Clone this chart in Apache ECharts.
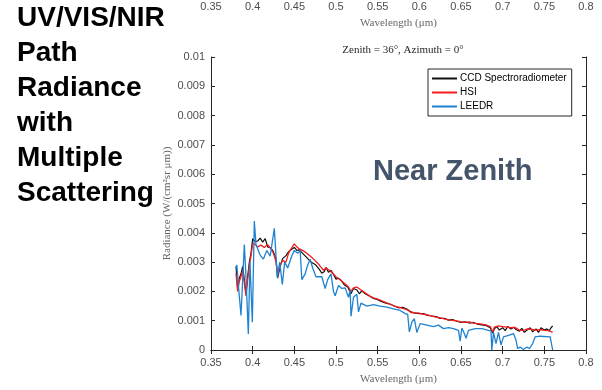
<!DOCTYPE html>
<html><head><meta charset="utf-8">
<script src="https://cdn.jsdelivr.net/npm/echarts@6/dist/echarts.min.js"></script>
<style>html,body{margin:0;padding:0;background:#fff}#c{width:602px;height:390px}</style>
</head><body><div id="c"></div>
<script>
var xTickLabels = ['0.35','0.4','0.45','0.5','0.55','0.6','0.65','0.7','0.75','0.8'];
var yTickLabels = ['0','0.001','0.002','0.003','0.004','0.005','0.006','0.007','0.008','0.009','0.01'];
var seriesNames = ['CCD Spectroradiometer','HSI','LEEDR'];

var ccdWl = [0.380,0.382,0.384,0.386,0.388,0.390,0.392,0.394,0.396,0.398,0.400,0.403,0.406,0.409,0.412,0.415,0.418,0.422,0.425,0.428,0.430,0.433,0.436,0.440,0.443,0.446,0.450,0.453,0.456,0.460,0.465,0.470,0.475,0.480,0.483,0.486,0.488,0.491,0.494,0.497,0.500,0.503,0.506,0.510,0.514,0.518,0.521,0.525,0.528,0.531,0.535,0.540,0.545,0.550,0.555,0.560,0.565,0.570,0.575,0.580,0.585,0.590,0.595,0.600,0.605,0.610,0.615,0.620,0.625,0.630,0.635,0.640,0.645,0.650,0.655,0.660,0.665,0.670,0.675,0.680,0.685,0.688,0.690,0.693,0.696,0.700,0.703,0.706,0.710,0.713,0.716,0.720,0.723,0.726,0.730,0.733,0.736,0.740,0.743,0.746,0.750,0.753,0.756,0.758,0.760];
var ccdVal = [0.00285,0.00210,0.00245,0.00260,0.00285,0.00280,0.00195,0.00250,0.00300,0.00330,0.00380,0.00370,0.00372,0.00382,0.00368,0.00380,0.00352,0.00348,0.00335,0.00310,0.00245,0.00285,0.00312,0.00322,0.00335,0.00342,0.00350,0.00340,0.00342,0.00330,0.00315,0.00300,0.00292,0.00275,0.00262,0.00268,0.00282,0.00265,0.00272,0.00258,0.00242,0.00245,0.00238,0.00222,0.00215,0.00192,0.00210,0.00205,0.00192,0.00202,0.00192,0.00184,0.00176,0.00172,0.00165,0.00160,0.00156,0.00150,0.00144,0.00146,0.00140,0.00130,0.00126,0.00124,0.00124,0.00118,0.00116,0.00114,0.00108,0.00108,0.00102,0.00104,0.00098,0.00094,0.00096,0.00092,0.00094,0.00088,0.00086,0.00084,0.00076,0.00058,0.00072,0.00080,0.00068,0.00076,0.00066,0.00080,0.00072,0.00078,0.00070,0.00064,0.00074,0.00060,0.00070,0.00076,0.00062,0.00072,0.00060,0.00076,0.00068,0.00072,0.00066,0.00076,0.00082];

var hsiWl = [0.380,0.382,0.384,0.386,0.388,0.390,0.392,0.394,0.396,0.398,0.400,0.403,0.406,0.410,0.414,0.418,0.422,0.425,0.428,0.430,0.433,0.436,0.440,0.443,0.446,0.450,0.453,0.456,0.460,0.465,0.470,0.475,0.480,0.485,0.488,0.492,0.496,0.500,0.505,0.510,0.515,0.518,0.521,0.525,0.530,0.535,0.540,0.545,0.550,0.555,0.560,0.565,0.570,0.575,0.580,0.585,0.590,0.595,0.600,0.605,0.610,0.615,0.620,0.625,0.630,0.635,0.640,0.645,0.650,0.655,0.660,0.665,0.670,0.675,0.680,0.685,0.688,0.690,0.695,0.700,0.705,0.710,0.715,0.720,0.725,0.730,0.735,0.740,0.745,0.750,0.755,0.760];
var hsiVal = [0.00262,0.00200,0.00235,0.00250,0.00270,0.00230,0.00185,0.00240,0.00290,0.00320,0.00365,0.00360,0.00352,0.00358,0.00350,0.00360,0.00345,0.00330,0.00300,0.00255,0.00290,0.00305,0.00300,0.00330,0.00345,0.00362,0.00352,0.00345,0.00340,0.00330,0.00318,0.00305,0.00290,0.00272,0.00280,0.00272,0.00262,0.00250,0.00240,0.00228,0.00215,0.00200,0.00212,0.00215,0.00205,0.00195,0.00185,0.00178,0.00174,0.00168,0.00162,0.00157,0.00150,0.00146,0.00142,0.00138,0.00128,0.00127,0.00126,0.00122,0.00120,0.00116,0.00112,0.00110,0.00106,0.00103,0.00101,0.00099,0.00096,0.00094,0.00096,0.00092,0.00090,0.00088,0.00086,0.00080,0.00062,0.00078,0.00082,0.00080,0.00078,0.00076,0.00077,0.00068,0.00067,0.00072,0.00070,0.00068,0.00070,0.00067,0.00066,0.00060];

var leedrWl = [0.380,0.381,0.3836,0.386,0.388,0.390,0.392,0.3948,0.3968,0.3996,0.402,0.404,0.4088,0.4128,0.417,0.421,0.426,0.4296,0.4324,0.4356,0.4384,0.442,0.4468,0.450,0.454,0.457,0.459,0.463,0.466,0.469,0.472,0.476,0.480,0.483,0.487,0.490,0.492,0.494,0.497,0.499,0.503,0.507,0.511,0.515,0.517,0.518,0.521,0.525,0.527,0.530,0.537,0.545,0.553,0.561,0.569,0.577,0.583,0.586,0.588,0.591,0.594,0.597,0.601,0.609,0.617,0.623,0.629,0.635,0.641,0.647,0.649,0.651,0.654,0.656,0.659,0.667,0.675,0.683,0.686,0.687,0.689,0.692,0.695,0.698,0.701,0.707,0.713,0.716,0.718,0.721,0.725,0.729,0.732,0.736,0.739,0.745,0.757,0.760];
var leedrVal = [0.00280,0.00290,0.00196,0.00118,0.00240,0.00360,0.00250,0.00055,0.00300,0.00095,0.00440,0.00360,0.00325,0.00310,0.00340,0.00320,0.00415,0.00247,0.00300,0.00224,0.00300,0.00280,0.00320,0.00340,0.00330,0.00340,0.00240,0.00260,0.00290,0.00310,0.00280,0.00250,0.00250,0.00250,0.00210,0.00240,0.00235,0.00260,0.00200,0.00185,0.00220,0.00210,0.00212,0.00180,0.00205,0.00115,0.00180,0.00190,0.00130,0.00160,0.00150,0.00155,0.00150,0.00146,0.00140,0.00135,0.00124,0.00122,0.00062,0.00095,0.00107,0.00060,0.00090,0.00085,0.00080,0.00085,0.00073,0.00076,0.00073,0.00067,0.00030,0.00075,0.00056,0.00040,0.00067,0.00073,0.00073,0.00067,0.00065,0.00000,0.00060,0.00022,0.00060,0.00017,0.00045,0.00050,0.00056,0.00034,0.00005,0.00010,0.00002,0.00010,0.00005,0.00022,0.00045,0.00047,0.00045,0.00000];

function zip(a,b){return a.map(function(v,i){return [v,b[i]];});}
function xFmt(v){var i=Math.round((v-0.35)/0.05);return xTickLabels[i]!==undefined?xTickLabels[i]:'';}
function yFmt(v){var i=Math.round(v/0.001);return yTickLabels[i]!==undefined?yTickLabels[i]:'';}

var axCol = '#262626';
var lblStyle = {color:'#4d4d4d', fontSize:11, fontFamily:'Liberation Sans, Arial, sans-serif'};
var serif = 'Liberation Serif, DejaVu Serif, serif';

var chart = echarts.init(document.getElementById('c'), null, {renderer:'canvas'});
chart.setOption({
  animation:false,
  backgroundColor:'#fff',
  title:{text:'Zenith = 36°, Azimuth = 0°', left:398, top:40, textAlign:'center',
    textStyle:{fontFamily:serif, fontSize:11, fontWeight:'normal', color:'#262626'}},
  legend:{orient:'vertical', left:428, top:69, padding:[4,5,4,4], itemGap:3, itemWidth:25, itemHeight:2, icon:'rect',
    backgroundColor:'#fff', borderColor:axCol, borderWidth:1, borderRadius:0,
    textStyle:{fontSize:10, color:'#000', fontFamily:'Liberation Sans, Arial, sans-serif', padding:[0,0,0,-2], lineHeight:11},
    data:seriesNames},
  grid:[
    {left:211, top:57, width:375, height:296, containLabel:false},
    {left:211, top:-8, width:375, height:2, containLabel:false}
  ],
  xAxis:[
    {gridIndex:0, type:'value', min:0.35, max:0.8, interval:0.05, position:'bottom',
     name:'Wavelength (μm)', nameLocation:'middle', nameGap:24, nameMoveOverlap:false,
     nameTextStyle:{fontFamily:serif, fontSize:11, color:'#666'},
     axisLine:{show:true, lineStyle:{color:axCol}}, axisTick:{show:true, inside:true, length:4, lineStyle:{color:axCol}},
     axisLabel:Object.assign({formatter:xFmt, margin:7}, lblStyle), splitLine:{show:false}},
    {gridIndex:0, type:'value', min:0.35, max:0.8, interval:0.05, position:'top',
     axisLine:{show:true, lineStyle:{color:axCol}}, axisTick:{show:true, inside:true, length:4, lineStyle:{color:axCol}},
     axisLabel:{show:false}, splitLine:{show:false}},
    {gridIndex:1, type:'value', min:0.35, max:0.8, interval:0.05, position:'bottom',
     name:'Wavelength (μm)', nameLocation:'middle', nameGap:23, nameMoveOverlap:false,
     nameTextStyle:{fontFamily:serif, fontSize:11, color:'#666'},
     axisLine:{show:false}, axisTick:{show:false},
     axisLabel:Object.assign({formatter:xFmt, margin:7}, lblStyle), splitLine:{show:false}}
  ],
  yAxis:[
    {gridIndex:0, type:'value', min:0, max:0.01, interval:0.001, position:'left',
     name:'Radiance (W/(cm²sr μm))', nameLocation:'middle', nameGap:38, nameMoveOverlap:false,
     nameTextStyle:{fontFamily:serif, fontSize:11, color:'#666', fontStyle:'normal'},
     axisLine:{show:true, lineStyle:{color:axCol}}, axisTick:{show:true, inside:true, length:4, lineStyle:{color:axCol}},
     axisLabel:Object.assign({formatter:yFmt, margin:6}, lblStyle), splitLine:{show:false}},
    {gridIndex:0, type:'value', min:0, max:0.01, interval:0.001, position:'right',
     axisLine:{show:true, lineStyle:{color:axCol}}, axisTick:{show:true, inside:true, length:4, lineStyle:{color:axCol}},
     axisLabel:{show:false}, splitLine:{show:false}},
    {gridIndex:1, type:'value', min:0, max:1, show:false}
  ],
  graphic:[
    {type:'text', left:17, top:1, style:{text:'UV/VIS/NIR\nPath\nRadiance\nwith\nMultiple\nScattering',
      fontFamily:'Liberation Sans, Arial, sans-serif', fontWeight:'bold', fontSize:28, lineHeight:35, fill:'#000'}},
    {type:'text', left:373, top:157, style:{text:'Near Zenith',
      fontFamily:'Liberation Sans, Arial, sans-serif', fontWeight:'bold', fontSize:29, fill:'#44546A'}}
  ],
  series:[
    {name:seriesNames[0], type:'line', xAxisIndex:0, yAxisIndex:0, data:zip(ccdWl,ccdVal), showSymbol:false, symbol:'none',
     lineStyle:{color:'#111', width:1.2}, itemStyle:{color:'#111'}, clip:true},
    {name:seriesNames[1], type:'line', xAxisIndex:0, yAxisIndex:0, data:zip(hsiWl,hsiVal), showSymbol:false, symbol:'none',
     lineStyle:{color:'#f41c1c', width:1.3}, itemStyle:{color:'#f41c1c'}, clip:true},
    {name:seriesNames[2], type:'line', xAxisIndex:0, yAxisIndex:0, data:zip(leedrWl,leedrVal), showSymbol:false, symbol:'none',
     lineStyle:{color:'#1f82d0', width:1.3}, itemStyle:{color:'#1f82d0'}, clip:true}
  ]
});
</script></body></html>
